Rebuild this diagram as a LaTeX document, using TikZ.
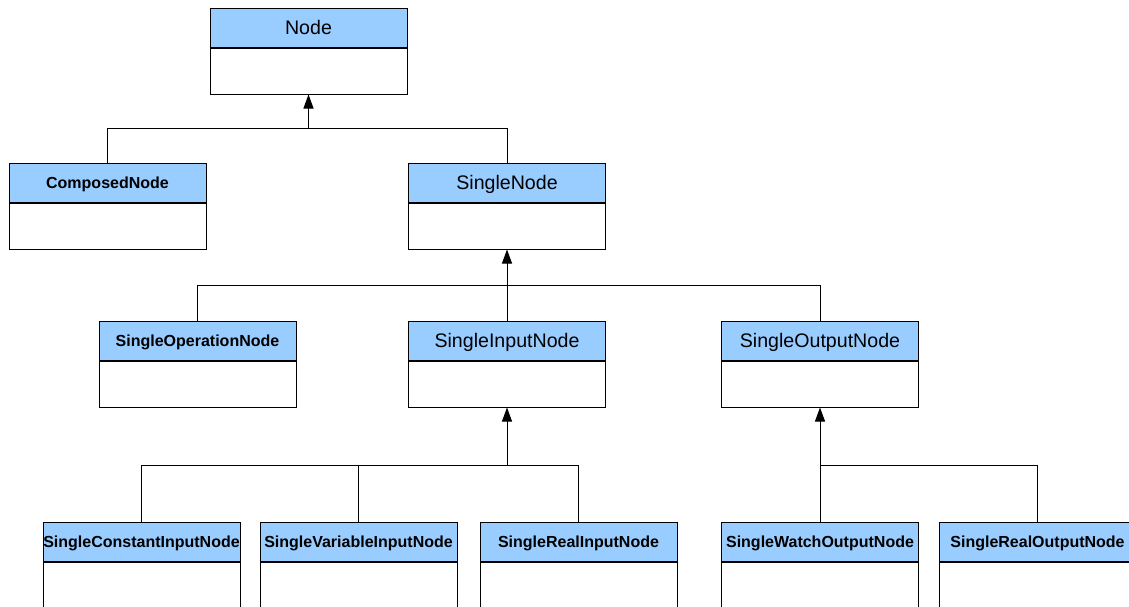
\documentclass[tikz,border=0pt]{standalone}
\usepackage{fontspec}
\setmainfont{Liberation Sans}
\usepackage{tikz}
\usetikzlibrary{positioning,arrows.meta}

\definecolor{headblue}{HTML}{99CCFF}

\tikzset{
    head/.style={draw, fill=headblue, minimum width=98.5pt, minimum height=19.5pt, inner sep=0pt, text depth=0pt, font=\fontsize{9.8}{11}\selectfont},
    headbold/.style={head, font=\fontsize{8}{10}\selectfont\bfseries},
    body/.style={draw, minimum width=98.5pt, minimum height=23pt, inner sep=0pt},
    inherit/.style={-{Triangle[width=5pt,length=7pt]}}
}

\begin{document}
\begin{tikzpicture}[x=0.5pt, y=-0.5pt, line width=0.5pt]
    \useasboundingbox (0, 0) rectangle (1129, 606);
    \clip (0, 0) rectangle (1129, 606);

    % classes
    \node [head] (nodeH) at (308.5, 27.5) {Node};
    \node [body, below=0pt of nodeH] (nodeB) {};

    \node [headbold] (composedH) at (107.5, 182.5) {ComposedNode};
    \node [body, below=0pt of composedH] (composedB) {};
    \node [head] (singleH) at (507, 182.5) {SingleNode};
    \node [body, below=0pt of singleH] (singleB) {};

    \node [headbold] (opH) at (197.5, 340.5) {SingleOperationNode};
    \node [body, below=0pt of opH] (opB) {};
    \node [head] (inH) at (507, 340.5) {SingleInputNode};
    \node [body, below=0pt of inH] (inB) {};
    \node [head] (outH) at (820, 340.5) {SingleOutputNode};
    \node [body, below=0pt of outH] (outB) {};

    \node [headbold] (constH) at (141.5, 541.5) {SingleConstantInputNode};
    \node [body, below=0pt of constH] (constB) {};
    \node [headbold] (varH) at (358.5, 541.5) {SingleVariableInputNode};
    \node [body, below=0pt of varH] (varB) {};
    \node [headbold] (realinH) at (578.5, 541.5) {SingleRealInputNode};
    \node [body, below=0pt of realinH] (realinB) {};
    \node [headbold] (watchH) at (820, 541.5) {SingleWatchOutputNode};
    \node [body, below=0pt of watchH] (watchB) {};
    \node [headbold] (realoutH) at (1037.5, 541.5) {SingleRealOutputNode};
    \node [body, below=0pt of realoutH] (realoutB) {};

    % junctions
    \coordinate (jNode) at (308.5, 128);
    \coordinate (jSingle) at (507, 285);
    \coordinate (jIn) at (507, 465);
    \coordinate (jOut) at (820, 465);

    % inheritance
    \draw (composedH.north) |- (jNode);
    \draw (singleH.north) |- (jNode);
    \draw [inherit] (jNode) -- (nodeB.south);

    \draw (opH.north) |- (jSingle);
    \draw (outH.north) |- (jSingle);
    \draw [inherit] (inH.north) -- (singleB.south);

    \draw (constH.north) |- (jIn);
    \draw (varH.north) |- (jIn);
    \draw (realinH.north) |- (jIn);
    \draw [inherit] (jIn) -- (inB.south);

    \draw (realoutH.north) |- (jOut);
    \draw [inherit] (watchH.north) -- (outB.south);

  \end{tikzpicture}
\end{document}
